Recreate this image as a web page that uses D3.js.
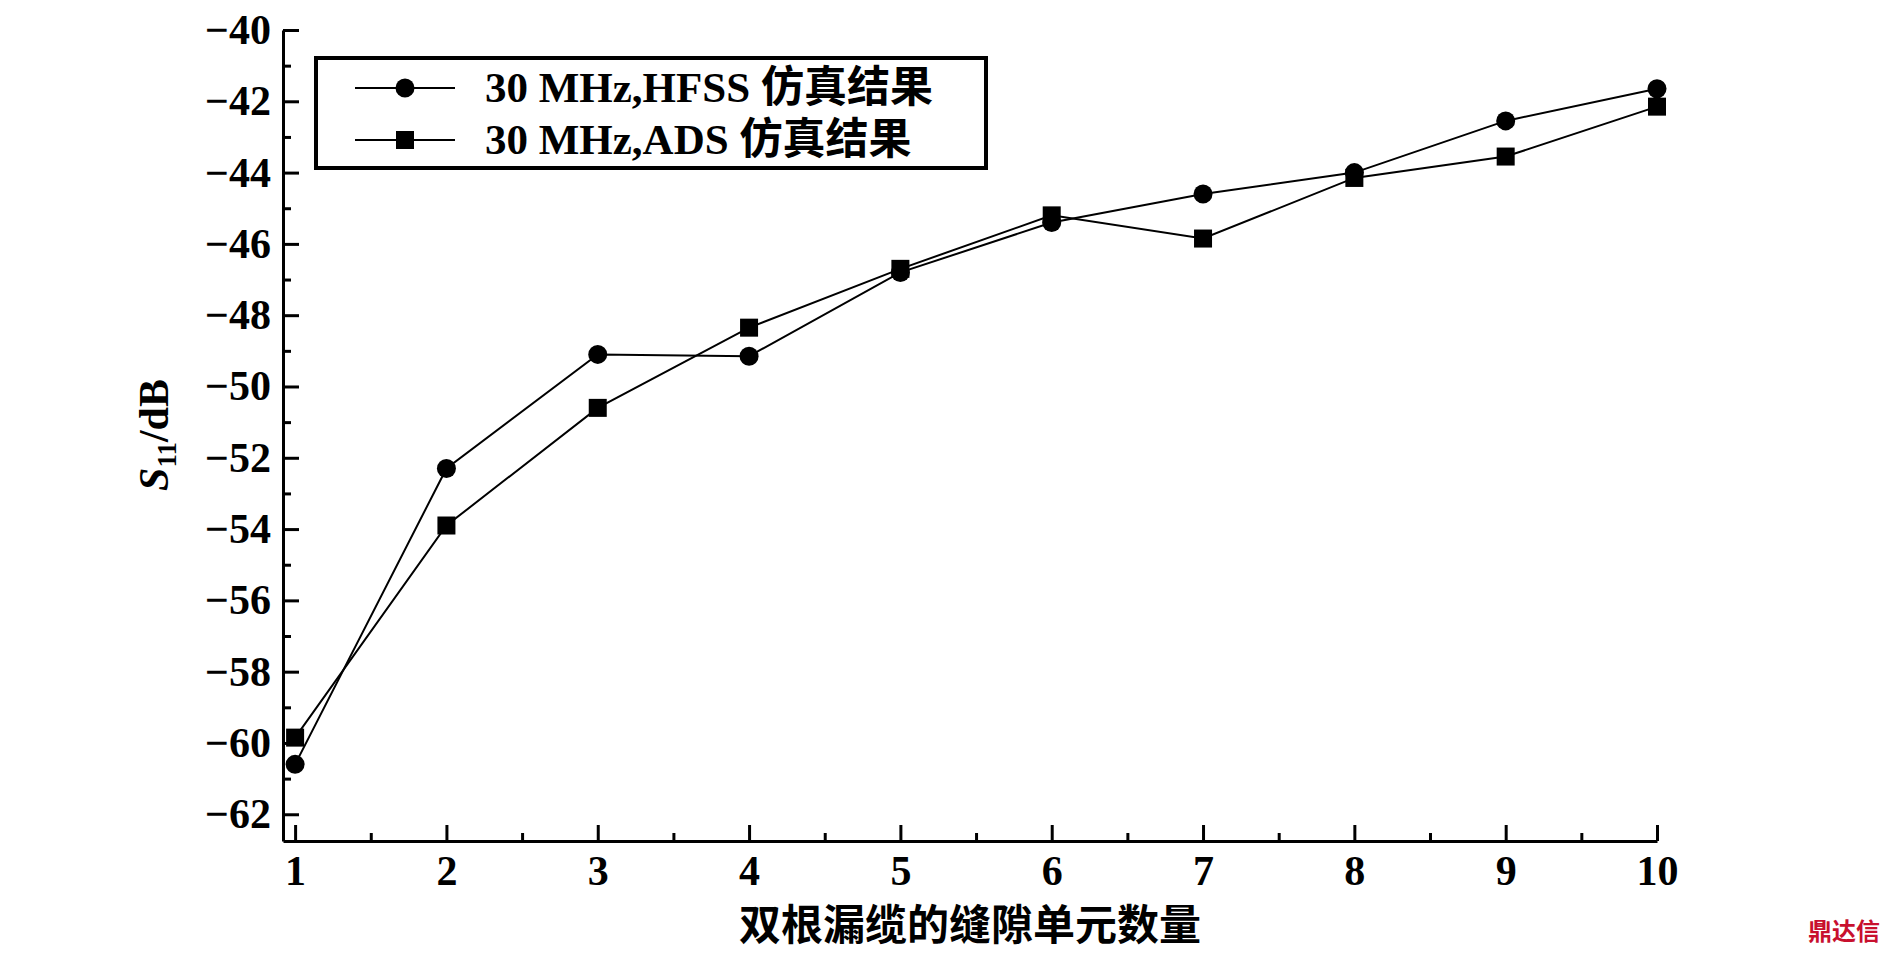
<!DOCTYPE html>
<html><head><meta charset="utf-8">
<script src="https://cdn.jsdelivr.net/npm/d3@7"></script>
<style>body{margin:0;background:#fff}text{font-family:"Liberation Serif","Noto Sans CJK SC",serif;font-weight:bold}</style>
</head><body><svg id="c" width="1890" height="956"></svg>
<script>
const counts = [1,2,3,4,5,6,7,8,9,10];
const hfss = [-60.6,-52.3,-49.1,-49.15,-46.8,-45.4,-44.6,-44.0,-42.55,-41.65];
const ads = [-59.85,-53.9,-50.6,-48.35,-46.7,-45.2,-45.85,-44.15,-43.55,-42.15];
const yTicks = d3.range(-62,-39,2);
const legendLabels = ["30 MHz,HFSS 仿真结果","30 MHz,ADS 仿真结果"];

let svg = d3.select("#c");
let x = d3.scaleLinear().domain([0.92,10]).range([283,1657]);
let y = d3.scaleLinear().domain([-62.75,-40]).range([841,30]);

// axes
svg.append("g").attr("transform","translate(0,841)")
  .call(d3.axisBottom(x).tickValues(counts).tickSize(0).tickPadding(14).tickFormat(d3.format("d")))
  .call(g=>g.select(".domain").attr("stroke-width",3))
  .selectAll("text").attr("font-size",42).attr("fill","#000");
svg.append("g").attr("transform","translate(0,841)")
  .call(d3.axisTop(x).tickValues(counts).tickSize(16).tickFormat(""))
  .call(g=>g.select(".domain").remove()).selectAll("line").attr("stroke-width",3);
svg.append("g").attr("transform","translate(0,841)")
  .call(d3.axisTop(x).tickValues(counts.slice(0,-1).map(d=>d+0.5)).tickSize(8).tickFormat(""))
  .call(g=>g.select(".domain").remove()).selectAll("line").attr("stroke-width",3);

svg.append("g").attr("transform","translate(283,0)")
  .call(d3.axisLeft(y).tickValues(yTicks).tickSize(0).tickPadding(12).tickFormat(d=>"−"+Math.abs(d)))
  .call(g=>g.select(".domain").attr("stroke-width",3))
  .selectAll("text").attr("font-size",42).attr("fill","#000");
svg.append("g").attr("transform","translate(283,0)")
  .call(d3.axisRight(y).tickValues(yTicks).tickSize(16).tickFormat(""))
  .call(g=>g.select(".domain").remove()).selectAll("line").attr("stroke-width",3);
svg.append("g").attr("transform","translate(283,0)")
  .call(d3.axisRight(y).tickValues(yTicks.map(d=>d+1)).tickSize(8).tickFormat(""))
  .call(g=>g.select(".domain").remove()).selectAll("line").attr("stroke-width",3);

// labels
svg.append("text").attr("x",(283+1657)/2).attr("y",940).attr("text-anchor","middle")
  .attr("font-size",42).text("双根漏缆的缝隙单元数量");
let yl = svg.append("text").attr("transform","translate(168,435) rotate(-90)").attr("text-anchor","middle").attr("font-size",42);
yl.append("tspan").attr("font-style","italic").style("font-family","'Liberation Serif'").text("S");
yl.append("tspan").attr("font-size",27).attr("dy",8).text("11");
yl.append("tspan").attr("dy",-8).text("/dB");

// series
let line = d3.line().x((d,i)=>x(counts[i])).y(d=>y(d));
[hfss,ads].forEach((s,k)=>{
  svg.append("path").attr("d",line(s)).attr("fill","none").attr("stroke","#000").attr("stroke-width",2);
  svg.selectAll(null).data(s).enter().append(k?"rect":"circle")
    .each(function(d,i){
      let el = d3.select(this);
      if(k) el.attr("x",x(counts[i])-9).attr("y",y(d)-9).attr("width",18).attr("height",18);
      else el.attr("cx",x(counts[i])).attr("cy",y(d)).attr("r",9.5);
    }).attr("fill","#000");
});

// legend
svg.append("rect").attr("x",316).attr("y",58).attr("width",670).attr("height",110)
  .attr("fill","#fff").attr("stroke","#000").attr("stroke-width",4);
legendLabels.forEach((t,k)=>{
  let ly = 88+k*52;
  svg.append("line").attr("x1",355).attr("x2",455).attr("y1",ly).attr("y2",ly).attr("stroke","#000").attr("stroke-width",2);
  if(k) svg.append("rect").attr("x",396).attr("y",ly-9).attr("width",18).attr("height",18);
  else svg.append("circle").attr("cx",405).attr("cy",ly).attr("r",9.5);
  svg.append("text").attr("x",485).attr("y",ly+14).attr("font-size",43).text(t);
});

svg.append("text").attr("x",1880).attr("y",940).attr("text-anchor","end").attr("font-size",24)
  .attr("fill","#c8102e").text("鼎达信");
</script></body></html>
